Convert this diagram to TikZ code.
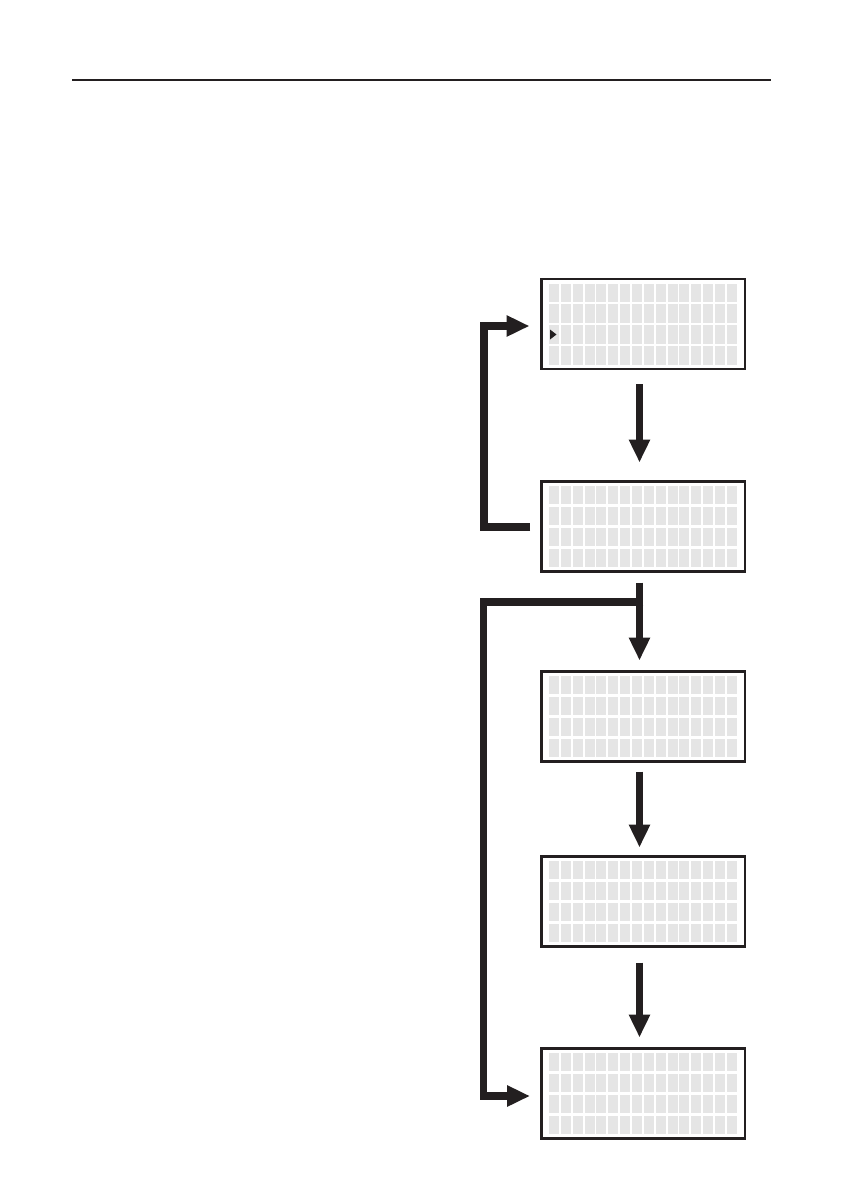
\documentclass[tikz,border=0pt]{standalone}
\usetikzlibrary{arrows.meta,calc}

\definecolor{ink}{HTML}{231F20}
\newcommand*{\px}{0.2494mm}
\newcommand*{\dispx}{643.25}

% 16 x 4 character cells of one display
\newcommand*{\lcdcells}[1]{%
	\foreach \c in {0,...,15} {
		\foreach \r in {0,...,3} {
			\fill[cell] ($(#1.north west)+(7.5+\c*11.85,4.5+\r*20.9)$) rectangle ++(10,18.3);
		}
	}
}

\begin{document}
\begin{tikzpicture}
[
	x=\px,y=-\px,
	display/.style={draw=ink,line width=2.5*\px,inner sep=0pt,outer sep=0pt,
		minimum width=203.5*\px,minimum height=90*\px},
	cell/.style={fill=black!10},
	flow/.style={draw=ink,line width=7.5*\px,line join=miter,
		-{Triangle[width=20*\px,length=23*\px]}}
]
	\useasboundingbox (0,0) rectangle (842,1191);

	% header rule
	\draw[ink,line width=1.2*\px] (72,80) -- (771,80);

	% displays
	\node[display] at (\dispx,324) (disp1) {};
	\node[display] at (\dispx,526.5) (disp2) {};
	\node[display] at (\dispx,716.5) (disp3) {};
	\node[display] at (\dispx,901.5) (disp4) {};
	\node[display] at (\dispx,1093.5) (disp5) {};

	\lcdcells{disp1}
	\lcdcells{disp2}
	\lcdcells{disp3}
	\lcdcells{disp4}
	\lcdcells{disp5}

	% cursor
	\fill[ink] ($(disp1.north west)+(8.5,50.5)$) -- ++(6.5,5) -- ++(-6.5,5) -- cycle;

	% steps down
	\draw[flow] ($(disp1.south)+(-3.75,15)$) -- ($(disp2.north)+(-3.75,-19)$);
	\draw[flow] ($(disp2.south)+(-3.75,11)$) -- ($(disp3.north)+(-3.75,-11)$);
	\draw[flow] ($(disp3.south)+(-3.75,10)$) -- ($(disp4.north)+(-3.75,-9)$);
	\draw[flow] ($(disp4.south)+(-3.75,16)$) -- ($(disp5.north)+(-3.75,-11)$);

	% loop back
	\draw[flow] ($(disp2.west)+(-11.5,0.5)$) -- ++(-46,0) |- ($(disp1.west)+(-12,2)$);

	% skip ahead
	\coordinate (branch) at ($(disp2.south)+(0,30.5)$);
	\draw[flow] (branch) -- ++(-159.75,0) |- ($(disp5.west)+(-11.5,2.5)$);

\end{tikzpicture}
\end{document}
